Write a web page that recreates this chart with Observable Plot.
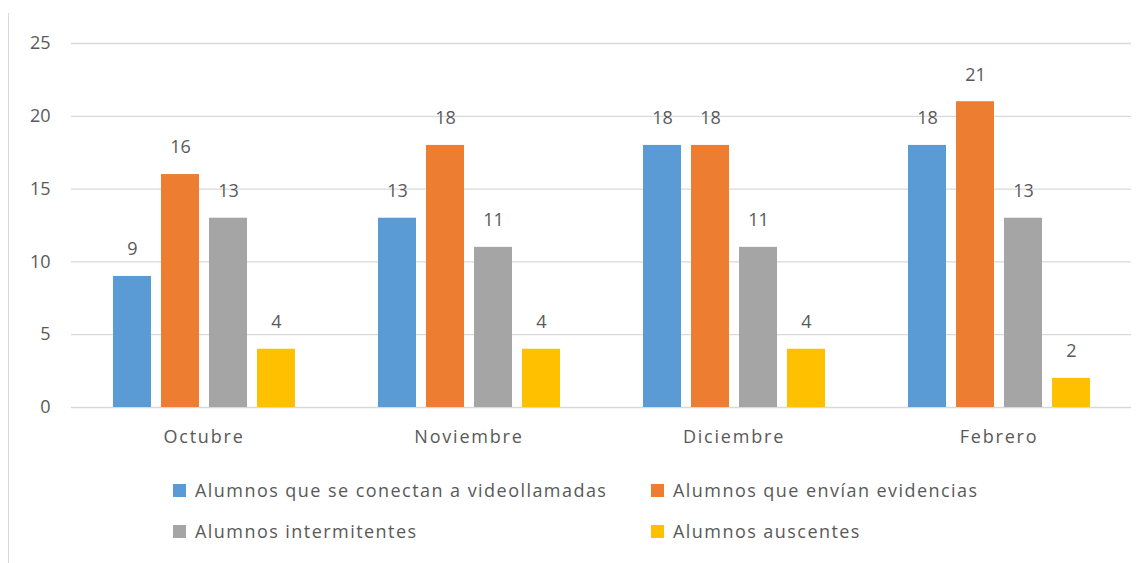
<!DOCTYPE html>
<html>
<head>
<meta charset="utf-8">
<script src="https://cdn.jsdelivr.net/npm/d3@7"></script>
<script src="https://cdn.jsdelivr.net/npm/@observablehq/plot@0.6"></script>
<style>
  html, body { margin: 0; padding: 0; background: #fff; }
  #wrap { position: relative; width: 1146px; height: 563px; overflow: hidden; font-family: "Open Sans", sans-serif; }
  #border { position: absolute; left: 8px; top: 13px; bottom: 0; width: 1px; background: #d9d9d9; }
  #chart { position: absolute; left: 0; top: 0; }
  .leg { position: absolute; display: flex; align-items: center; font-size: 18px; color: #595959; letter-spacing: 1.45px; white-space: nowrap; }
  .sw { width: 13px; height: 13px; margin-right: 9px; }
  .fxlab text { letter-spacing: 1.8px; }
</style>
</head>
<body>
<div id="wrap">
  <div id="border"></div>
  <div id="chart"></div>
  <div id="legend"></div>
</div>
<script>
const months = ["Octubre", "Noviembre", "Diciembre", "Febrero"];
const seriesNames = [
  "Alumnos que se conectan a videollamadas",
  "Alumnos que envían evidencias",
  "Alumnos intermitentes",
  "Alumnos auscentes"
];
const videollamadas = [9, 13, 18, 18];
const evidencias = [16, 18, 18, 21];
const intermitentes = [13, 11, 11, 13];
const auscentes = [4, 4, 4, 2];
const colors = ["#5B9BD5", "#ED7D31", "#A5A5A5", "#FFC000"];
const yTicks = [0, 5, 10, 15, 20, 25];

const seriesValues = [videollamadas, evidencias, intermitentes, auscentes];
const data = [];
months.forEach((m, i) => {
  seriesNames.forEach((s, j) => {
    data.push({ month: m, series: s, value: seriesValues[j][i] });
  });
});

const textColor = "#595959";
const chart = Plot.plot({
  width: 1146,
  height: 460,
  marginLeft: 71,
  marginRight: 15,
  marginTop: 43,
  marginBottom: 53,
  style: { fontFamily: "Open Sans, sans-serif", fontSize: "18px", color: textColor, background: "transparent" },
  fx: { domain: months, padding: 0, label: null },
  x: { domain: seriesNames, axis: null, paddingInner: 0.21, paddingOuter: 0.84 },
  y: { domain: [0, 25], label: null },
  color: { domain: seriesNames, range: colors },
  marks: [
    Plot.gridY(yTicks, { stroke: "#d9d9d9", strokeOpacity: 1, strokeWidth: 1.3 }),
    Plot.axisY({ ticks: yTicks, tickSize: 0, tickPadding: 21, label: null, fill: textColor, fontSize: 18 }),
    Plot.axisFx({ anchor: "bottom", tickSize: 0, tickPadding: 23, label: null, fill: textColor, fontSize: 18, className: "fxlab" }),
    Plot.barY(data, { fx: "month", x: "series", y: "value", fill: "series" }),
    Plot.text(data, { fx: "month", x: "series", y: "value", text: d => String(d.value), dy: -27, fill: textColor, fontSize: 18 })
  ]
});
document.getElementById("chart").appendChild(chart);

const legend = document.getElementById("legend");
const legPos = [
  { left: 173, top: 490 },
  { left: 651, top: 490 },
  { left: 173, top: 531 },
  { left: 651, top: 531 }
];
seriesNames.forEach((s, i) => {
  const item = document.createElement("div");
  item.className = "leg";
  item.style.left = legPos[i].left + "px";
  item.style.top = (legPos[i].top - 13) + "px";
  item.style.height = "26px";
  const sw = document.createElement("span");
  sw.className = "sw";
  sw.style.background = colors[i];
  const tx = document.createElement("span");
  tx.textContent = s;
  item.appendChild(sw);
  item.appendChild(tx);
  legend.appendChild(item);
});
</script>
</body>
</html>
